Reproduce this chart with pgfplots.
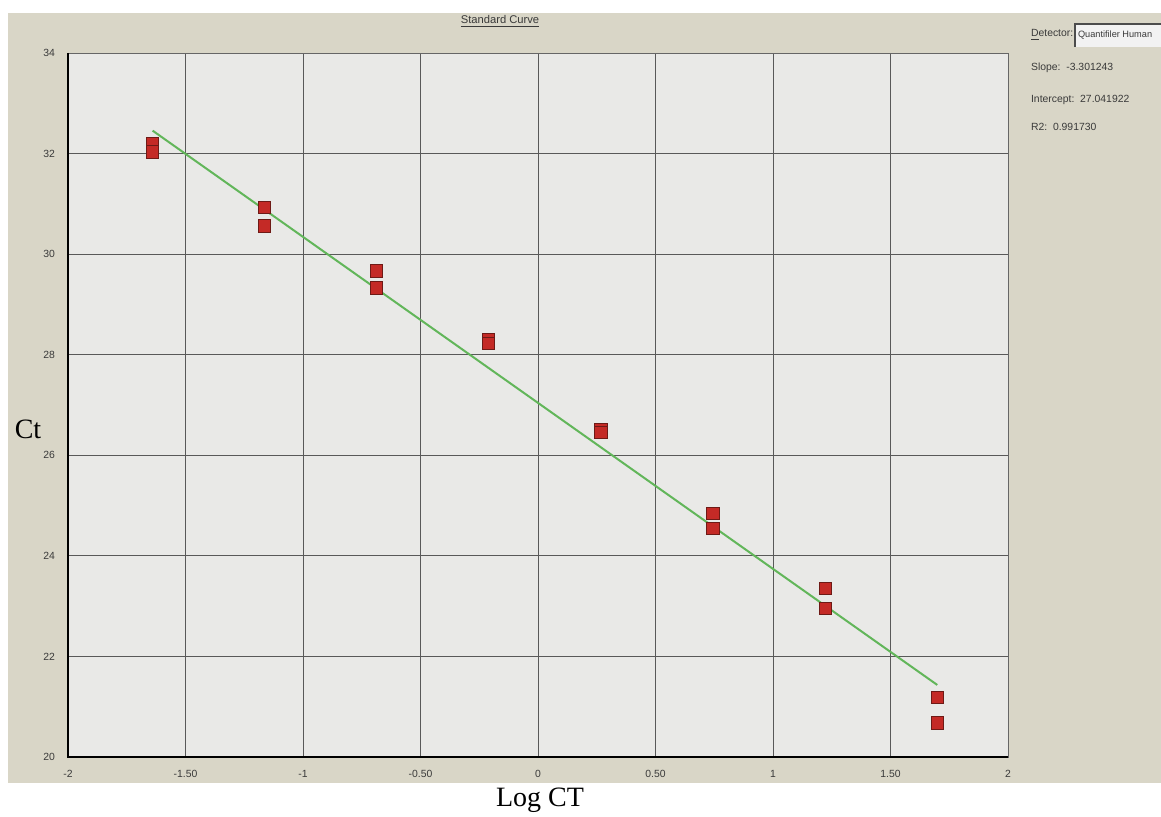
\documentclass[border=0pt]{standalone}
\usepackage{fontspec}
\setmainfont{Liberation Sans}
\newfontfamily\seriffont{Liberation Serif}
\usepackage{pgfplots}
\pgfplotsset{compat=1.18}
\definecolor{bg}{HTML}{D9D6C7}
\definecolor{plotbg}{HTML}{E9E9E7}
\definecolor{ptred}{HTML}{C42A26}
\definecolor{ptedge}{HTML}{6E1A16}
\definecolor{fitgreen}{HTML}{62B65A}
\definecolor{txt}{HTML}{3A3A3A}
\begin{document}
\begin{tikzpicture}[x=1pt,y=1pt]
\path[use as bounding box] (0,0) rectangle (580.5,408.5);
\fill[white] (0,0) rectangle (580.5,408.5);
\fill[bg] (4,17) rectangle (580.5,402);
\begin{axis}[
  at={(34pt,30pt)}, anchor=south west,
  scale only axis, width=470pt, height=352pt,
  xmin=-2, xmax=2, ymin=20, ymax=34,
  xtick={-2,-1.5,-1,-0.5,0,0.5,1,1.5,2},
  xticklabels={-2,-1.50,-1,-0.50,0,0.50,1,1.50,2},
  ytick={20,22,24,26,28,30,32,34},
  /pgf/number format/assume math mode=true,
  grid=major,
  major grid style={draw=black!65, line width=0.45pt},
  axis background/.style={fill=plotbg},
  axis line style={draw=black!60, line width=0.45pt},
  tick style={draw=none},
  ticklabel style={font=\fontsize{5.2}{6}\selectfont, text=txt},
  xticklabel style={yshift=-3pt},
  yticklabel style={xshift=-3pt},
  clip=false,
]
\addplot[fitgreen, line width=1pt] coordinates {(-1.64,32.456) (1.699,21.433)};
\addplot[only marks, mark=square*, mark size=3.1pt,
  mark options={fill=ptred, draw=ptedge, line width=0.4pt}] coordinates {
(-1.640,32.19) (-1.640,32.03)
(-1.164,30.93) (-1.164,30.56)
(-0.687,29.67) (-0.687,29.33)
(-0.210,28.30) (-0.210,28.22)
(0.268,26.52) (0.268,26.45)
(0.745,24.85) (0.745,24.55)
(1.222,23.35) (1.222,22.95)
(1.699,21.18) (1.699,20.68)
};
\draw[black, line width=1.1pt] (rel axis cs:0,1) -- (rel axis cs:0,0) -- (rel axis cs:1,0);
\end{axis}
% title
\node[font=\fontsize{5.6}{6}\selectfont, text=txt] at (250,397.5) {\underline{Standard Curve}};
% right panel
\node[anchor=west, font=\fontsize{5.2}{6}\selectfont, text=txt] at (512,391) {\underline{D}etector:};
\fill[white!95!black] (537.5,385) rectangle (580.5,396.5);
\draw[black!70, line width=0.6pt] (537.5,385) -- (537.5,396.5) -- (580.5,396.5);
\node[anchor=west, inner sep=0.5pt, font=\fontsize{4.6}{5}\selectfont, text=txt] at (538.3,390.8) {Quantifiler Human};
\node[anchor=west, font=\fontsize{5.2}{6}\selectfont, text=txt] at (512,374.5) {Slope:\ \ -3.301243};
\node[anchor=west, font=\fontsize{5.2}{6}\selectfont, text=txt] at (512,358.5) {Intercept:\ \ 27.041922};
\node[anchor=west, font=\fontsize{5.2}{6}\selectfont, text=txt] at (512,345) {R2:\ \ 0.991730};
% axis labels
\node[font=\seriffont\fontsize{14}{16}\selectfont] at (14,194) {Ct};
\node[font=\seriffont\fontsize{14}{16}\selectfont] at (270,8.5) {Log CT};
\end{tikzpicture}
\end{document}
